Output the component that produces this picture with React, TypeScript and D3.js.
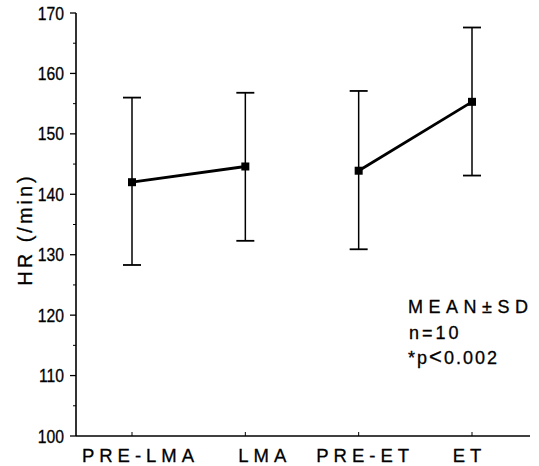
import React from "react";
import * as d3 from "d3";

const categories = ["PRE-LMA", "LMA", "PRE-ET", "ET"];
const means = [142.0, 144.6, 143.9, 155.3];
const upper = [156.0, 156.8, 157.1, 167.6];
const lower = [128.3, 132.3, 130.9, 143.1];
const pairs = [[0, 1], [2, 3]];
const yTicks = [100, 110, 120, 130, 140, 150, 160, 170];

const W = 539;
const H = 466;
const FONT = "'Liberation Sans', Arial, Helvetica, sans-serif";

export default function App() {
  const y = d3.scaleLinear().domain([100, 170]).range([436, 13]);
  const x = d3.scalePoint<string>().domain(categories).range([132, 472]);
  const axisX0 = 76;
  const axisX1 = 530;
  const labelCenterDx = [6, 17, 4, -5];
  const line = d3
    .line<number>()
    .x((i) => x(categories[i]) as number)
    .y((i) => y(means[i]));
  const minor = d3.range(105, 170, 10);
  const textStroke = { stroke: "#000", strokeWidth: 0.3 };
  const xLs = 5;

  return (
    <svg width={W} height={H} style={{ position: "absolute", left: 0, top: 0, background: "#fff" }}>
      <rect width={W} height={H} fill="#fff" />
      {/* axes */}
      <line x1={axisX0} x2={axisX0} y1={y(170)} y2={y(100)} stroke="#000" strokeWidth={1.6} />
      <line x1={axisX0} x2={axisX1} y1={y(100)} y2={y(100)} stroke="#000" strokeWidth={1.6} />
      {yTicks.map((t) => (
        <g key={t}>
          <line x1={axisX0 - 6} x2={axisX0} y1={y(t)} y2={y(t)} stroke="#000" strokeWidth={1.3} />
          <text
            transform={`translate(${axisX0 - 12}, ${y(t) + 6.5}) scale(0.85, 1)`}
            textAnchor="end"
            fontFamily={FONT}
            fontSize={18.5}
            fill="#000"
            {...textStroke}
          >
            {t}
          </text>
        </g>
      ))}
      {minor.map((t) => (
        <line key={t} x1={axisX0 - 3} x2={axisX0} y1={y(t)} y2={y(t)} stroke="#000" strokeWidth={1} />
      ))}
      {categories.map((c, i) => (
        <g key={c}>
          <line x1={x(c)} x2={x(c)} y1={y(100)} y2={y(100) - 4} stroke="#000" strokeWidth={1} />
          <text
            x={(x(c) as number) + labelCenterDx[i] + xLs / 2}
            y={y(100) + 26}
            textAnchor="middle"
            fontFamily={FONT}
            fontSize={18.5}
            letterSpacing={xLs}
            fill="#000"
            {...textStroke}
          >
            {c}
          </text>
        </g>
      ))}
      <text
        transform={`translate(32, 229.5) rotate(-90)`}
        textAnchor="middle"
        fontFamily={FONT}
        fontSize={20}
        letterSpacing={3}
        fill="#000"
        {...textStroke}
      >
        HR (/min)
      </text>
      {/* error bars */}
      {categories.map((c, i) => {
        const cx = x(c) as number;
        return (
          <g key={c} stroke="#000" strokeWidth={1.5}>
            <line x1={cx} x2={cx} y1={y(upper[i])} y2={y(lower[i])} />
            <line x1={cx - 9} x2={cx + 9} y1={y(upper[i])} y2={y(upper[i])} strokeWidth={1.8} />
            <line x1={cx - 9} x2={cx + 9} y1={y(lower[i])} y2={y(lower[i])} strokeWidth={1.8} />
          </g>
        );
      })}
      {pairs.map((p, k) => (
        <path key={k} d={line(p) || ""} fill="none" stroke="#000" strokeWidth={2.8} />
      ))}
      {categories.map((c, i) => (
        <rect
          key={c}
          x={(x(c) as number) - 4}
          y={y(means[i]) - 4}
          width={8}
          height={8}
          fill="#000"
        />
      ))}
      {/* legend */}
      <g fontFamily={FONT} fill="#000" {...textStroke}>
        <text x={408} y={313} fontSize={18} letterSpacing={5.5}>
          MEAN±SD
        </text>
        <text x={409} y={339} fontSize={18} letterSpacing={3}>
          n=10
        </text>
        <text x={408} y={364} fontSize={18} letterSpacing={2}>
          *p<tspan fontSize={22}>{"<"}</tspan>0.002
        </text>
      </g>
    </svg>
  );
}
